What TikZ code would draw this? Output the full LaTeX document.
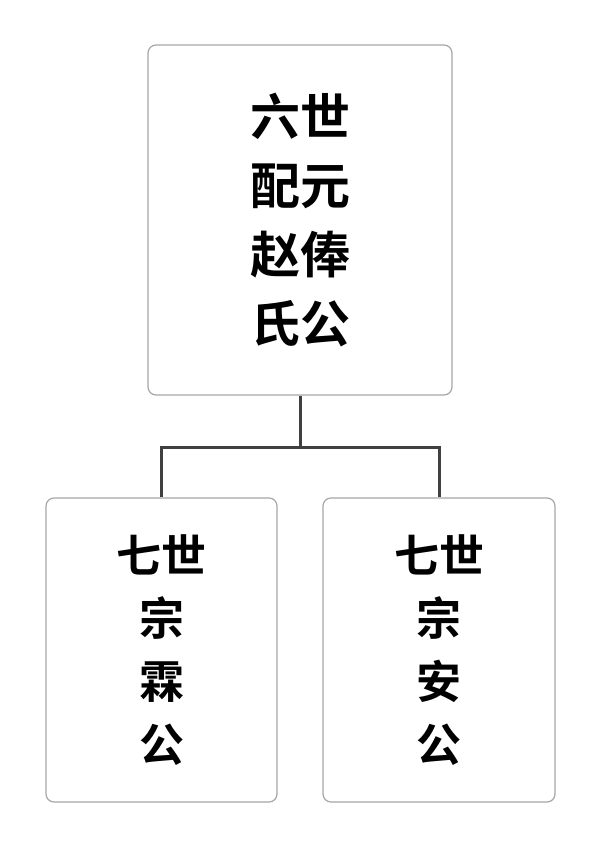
\documentclass[tikz,border=0pt]{standalone}
\usepackage{fontspec}
\newfontfamily\cjk{Noto Sans CJK SC Bold}
\begin{document}
\begin{tikzpicture}[x=1pt,y=-1pt]
	\tikzstyle{box}=[draw=black!35,line width=1.2pt,rounded corners=8pt,align=center,inner sep=0pt]
	\tikzstyle{link}=[draw=black!75,line width=3pt]
	\useasboundingbox (0,0) rectangle (600,848);
	\node[box,minimum width=304pt,minimum height=350pt,font=\cjk\fontsize{50}{69}\selectfont] (6-1) at (300,220) {六世\\配元\\赵俸\\氏公};
	\node[box,minimum width=231pt,minimum height=304pt,font=\cjk\fontsize{45}{63}\selectfont] (7-1) at (161.5,650) {七世\\宗\\霖\\公};
	\node[box,minimum width=232pt,minimum height=304pt,font=\cjk\fontsize{45}{63}\selectfont] (7-2) at (439,650) {七世\\宗\\安\\公};
	\coordinate (split) at (300,447);

	\path[link]
	(6-1.south) -- (split)
	(7-1.north) |- (split) -| (7-2.north)
	;
\end{tikzpicture}
\end{document}
